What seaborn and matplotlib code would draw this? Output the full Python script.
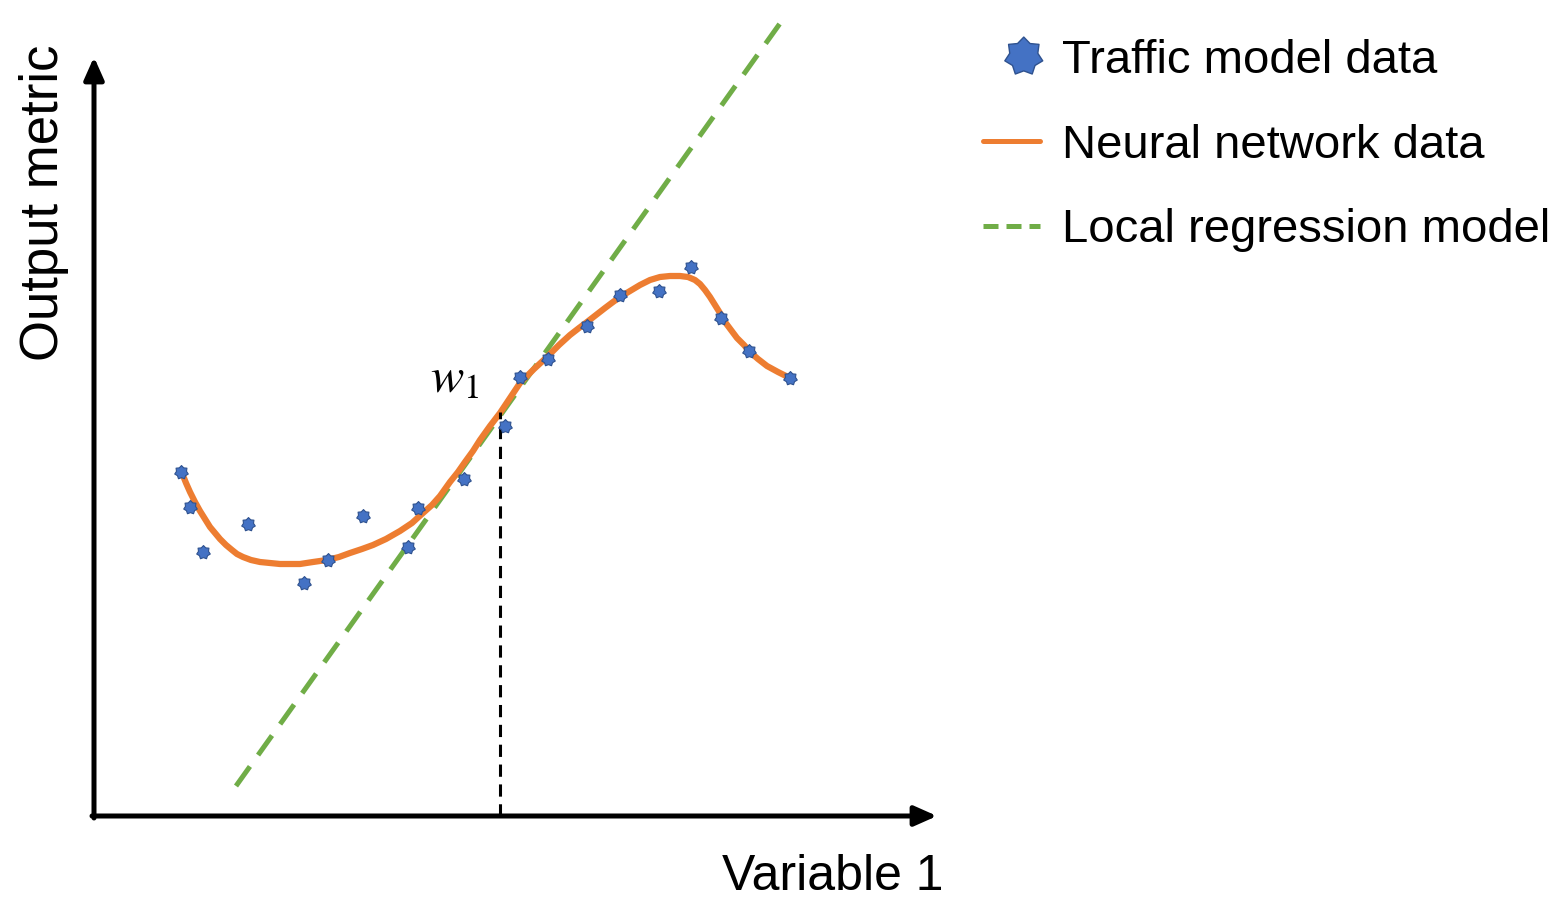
import numpy as np
import matplotlib
matplotlib.use("Agg")
import matplotlib.pyplot as plt
from matplotlib.path import Path
from matplotlib.lines import Line2D
from matplotlib.markers import MarkerStyle
from matplotlib.transforms import Affine2D
import pandas as pd
import seaborn as sns

# ---- data (schematic units; origin at the axes corner) ----
traffic_x = [87, 96, 109, 154, 210, 234, 269, 314, 324, 370,
             411, 426, 454, 493, 526, 565, 597, 627, 655, 696]
traffic_y = [344, 309, 264, 292, 233, 256, 300, 269, 308, 337,
             390, 439, 457, 490, 521, 525, 549, 498, 465, 438]

nn_x = [88, 92, 96, 101, 106, 111, 116, 121, 126, 132, 138, 143, 149, 157,
        166, 176, 186, 196, 206, 219, 233, 245, 256, 268, 279, 292, 306, 318,
        329, 338, 346, 351, 356, 364, 371, 379, 386, 396, 406, 416, 426, 440,
        453, 465, 476, 485, 493, 502, 511, 519, 526, 536, 546, 556, 566, 576,
        586, 594, 601, 606, 611, 616, 621, 626, 631, 637, 643, 650, 656, 664,
        673, 684, 696]
nn_y = [343, 333, 324, 314, 305, 297, 289, 283, 277, 271, 266, 262, 259, 256,
        254, 253, 252, 252, 252, 254, 256, 259, 263, 267, 271, 277, 285, 293,
        303, 311, 320, 327, 334, 344, 354, 365, 376, 390, 403, 418, 433, 447,
        459, 471, 481, 488, 494, 501, 508, 514, 519, 525, 531, 536, 539, 540,
        540, 539, 536, 532, 526, 519, 511, 503, 494, 486, 478, 471, 464, 457,
        450, 444, 438]

reg_x = [142, 692]
reg_y = [30, 801]

w1_x = 406
w1_y = 404

x_max = 843
y_max = 759

labels = ["Traffic model data", "Neural network data", "Local regression model"]
x_label = "Variable 1"
y_label = "Output metric"

BLUE = "#4472C4"
BLUE_EDGE = "#2F528F"
ORANGE = "#ED7D31"
GREEN = "#70AD47"

sns.set_style("white")
plt.rcParams["font.family"] = ["Liberation Sans", "DejaVu Sans"]
plt.rcParams["mathtext.fontset"] = "stix"
plt.rcParams["text.color"] = "black"

fig = plt.figure(figsize=(15.63, 9.0), dpi=100)
ax = fig.add_axes([0, 0, 1, 1])
ax.set_xlim(-94, 1469)
ax.set_ylim(-84, 816)
ax.axis("off")

# 7-point star marker
ang = np.pi / 2 + np.arange(14) * np.pi / 7
rad = np.where(np.arange(14) % 2 == 0, 1.0, 0.74)
verts = np.column_stack([rad * np.cos(ang), rad * np.sin(ang)])
verts = np.vstack([verts, verts[:1]])
star = Path(verts, closed=True)

# axes arrows
arrow_kw = dict(arrowstyle="-|>,head_length=0.45,head_width=0.2", color="black",
                lw=3.6, mutation_scale=30, shrinkA=0, shrinkB=0)
ax.annotate("", xy=(x_max, 0), xytext=(-2, 0), arrowprops=arrow_kw)
ax.annotate("", xy=(0, y_max), xytext=(0, -2), arrowprops=arrow_kw)

# local regression model (dashed green)
df_reg = pd.DataFrame({"x": reg_x, "y": reg_y})
sns.lineplot(data=df_reg, x="x", y="y", ax=ax, color=GREEN, lw=3.6,
             estimator=None, legend=False, zorder=2)
ax.lines[-1].set_dashes((4.8, 2.8))
ax.lines[-1].set_clip_on(False)

# neural network curve
df_nn = pd.DataFrame({"x": nn_x, "y": nn_y})
sns.lineplot(data=df_nn, x="x", y="y", ax=ax, color=ORANGE, lw=4.5,
             estimator=None, legend=False, zorder=3)
ax.lines[-1].set_solid_joinstyle("round")
ax.lines[-1].set_solid_capstyle("round")

# vertical dashed marker at w1
df_w = pd.DataFrame({"x": [w1_x, w1_x], "y": [0, w1_y]})
sns.lineplot(data=df_w, x="x", y="y", ax=ax, color="black", lw=2.2,
             estimator=None, sort=False, legend=False, zorder=4)
ax.lines[-1].set_dashes((4, 2.5))

# traffic model points
df_t = pd.DataFrame({"x": traffic_x, "y": traffic_y})
sns.scatterplot(data=df_t, x="x", y="y", ax=ax, marker=star, s=100,
                color=BLUE, edgecolor=BLUE_EDGE, linewidth=0.8, zorder=5,
                legend=False)

ax.text(336, 424, r"$w_1$", fontsize=36, ha="left", va="baseline")

ax.text(849, -74, x_label, fontsize=36, ha="right", va="baseline")
ax.text(-50, 771, y_label, fontsize=38, rotation=90, ha="center", va="top")

legend_star = MarkerStyle(star, transform=Affine2D().translate(0.29, 0))
handles = [
    Line2D([], [], ls="none", marker=legend_star, markersize=28,
           markerfacecolor=BLUE, markeredgecolor=BLUE_EDGE, markeredgewidth=1.0),
    Line2D([], [], color=ORANGE, lw=3.6),
    Line2D([], [], color=GREEN, lw=3.6, dashes=(3.0, 1.6)),
]
leg = fig.legend(handles, labels, loc="upper left",
                 bbox_to_anchor=(983 / 1563, 1 - 39 / 900), frameon=False,
                 fontsize=34, handlelength=1.21, handletextpad=0.47,
                 labelspacing=0.86, borderpad=0, borderaxespad=0)
for t in leg.get_texts():
    t.set_color("black")

fig.savefig("out.png", dpi=100)
